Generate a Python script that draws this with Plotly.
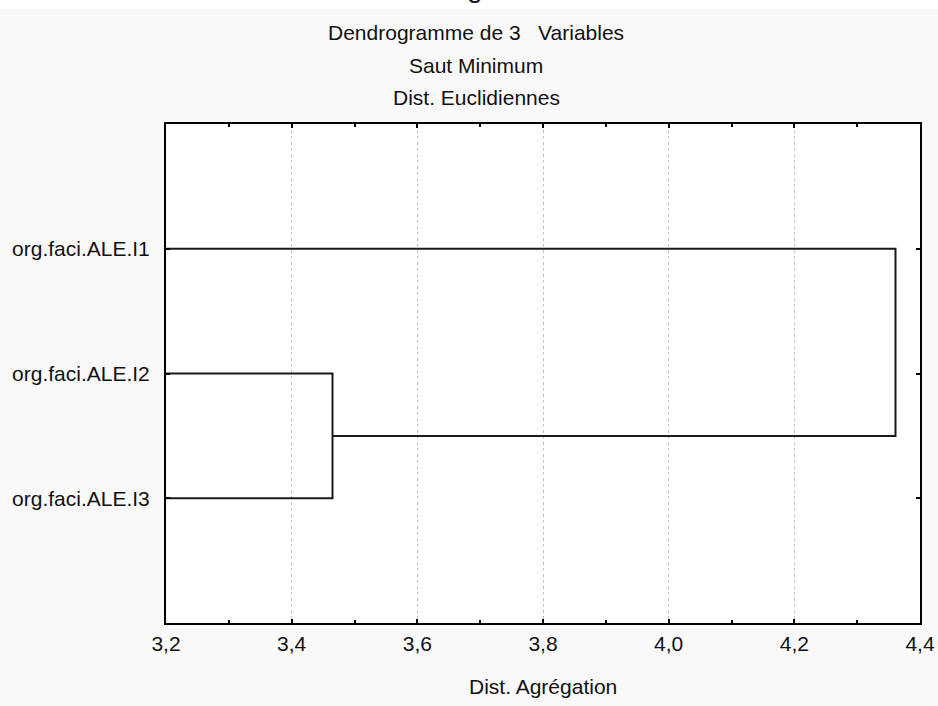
import plotly.graph_objects as go

# leaves from top to bottom
leaf_labels = ['org.faci.ALE.I1', 'org.faci.ALE.I2', 'org.faci.ALE.I3']
leaf_pos = [3, 2, 1]

# merges: (left member, right member, aggregation distance)
# members are leaf indices or ('c', n) for the n-th merge
merge_left = [1, ('c', 0)]
merge_right = [2, 0]
merge_dist = [3.465, 4.361]

x_min, x_max = 3.2, 4.4
x_ticks = [3.2, 3.4, 3.6, 3.8, 4.0, 4.2, 4.4]

title_lines = ['Dendrogramme de 3&nbsp;&nbsp; Variables', 'Saut Minimum', 'Dist. Euclidiennes']
x_title = 'Dist. Agrégation'

FONT = 'Liberation Sans, Arial, sans-serif'
LINE = '#1a1a1a'


def member_info(m):
    """returns (y position, x height) of a leaf or a cluster"""
    if isinstance(m, tuple):
        return cluster_y[m[1]], merge_dist[m[1]]
    return leaf_pos[m], x_min


cluster_y = []
xs, ys = [], []
for a, b, d in zip(merge_left, merge_right, merge_dist):
    ya, xa = member_info(a)
    yb, xb = member_info(b)
    xs += [xa, d, d, xb, None]
    ys += [ya, ya, yb, yb, None]
    cluster_y.append((ya + yb) / 2)

fig = go.Figure()
fig.add_trace(go.Scatter(x=xs, y=ys, mode='lines',
                         line=dict(color=LINE, width=2),
                         hoverinfo='skip', showlegend=False))

# paper y for a pixel row (plot area 124..623)
def py(p):
    return (623 - p) / 499

annotations = []
for line, p in zip(title_lines, [33, 65, 97]):
    annotations.append(dict(text=line, xref='paper', yref='paper',
                            x=(476 - 166) / 754, y=py(p), xanchor='center', yanchor='middle',
                            showarrow=False, font=dict(family=FONT, size=21, color='#111')))
annotations.append(dict(text=x_title, xref='paper', yref='paper',
                        x=0.5, y=py(686), xanchor='center', yanchor='middle',
                        showarrow=False, font=dict(family=FONT, size=21, color='#111')))
# cropped big title, only the descender shows at the top edge
annotations.append(dict(text='g', xref='paper', yref='paper',
                        x=(475 - 166) / 754, y=py(-12), xanchor='center', yanchor='middle',
                        showarrow=False, font=dict(family=FONT, size=28, color='#111')))

fig.update_layout(
    width=938, height=706,
    margin=dict(l=166, r=18, t=124, b=83, autoexpand=False),
    paper_bgcolor='#f9f9f9',
    plot_bgcolor='white',
    separators=',.',
    font=dict(family=FONT, size=21, color='#111'),
    annotations=annotations,
    shapes=[dict(type='rect', xref='paper', yref='paper',
                 x0=-0.3, x1=1.1, y0=py(9), y1=py(-20),
                 fillcolor='white', line=dict(width=0), layer='below')],
    xaxis=dict(range=[x_min, x_max], tickvals=x_ticks, tickformat='.1f',
               showgrid=True, gridcolor='#c4c4c4', gridwidth=1, griddash='3px,3px',
               showline=True, linecolor='black', linewidth=2, mirror='ticks',
               ticks='inside', ticklen=4, tickcolor='black', tickwidth=1.5,
               minor=dict(dtick=0.1, ticks='inside', ticklen=3, tickcolor='black', showgrid=False),
               ticklabelstandoff=1, zeroline=False, automargin=False,
               tickfont=dict(family=FONT, size=21, color='#111')),
    yaxis=dict(range=[0, 4], tickvals=leaf_pos, ticktext=leaf_labels,
               showgrid=False, zeroline=False, automargin=False,
               showline=True, linecolor='black', linewidth=2, mirror='ticks',
               ticks='inside', ticklen=4, tickcolor='black', tickwidth=1.5,
               ticklabelstandoff=10,
               tickfont=dict(family=FONT, size=21, color='#111')),
)

fig.write_html('out.html', config={'displayModeBar': False},
               post_script="document.body.style.margin='0px';")
